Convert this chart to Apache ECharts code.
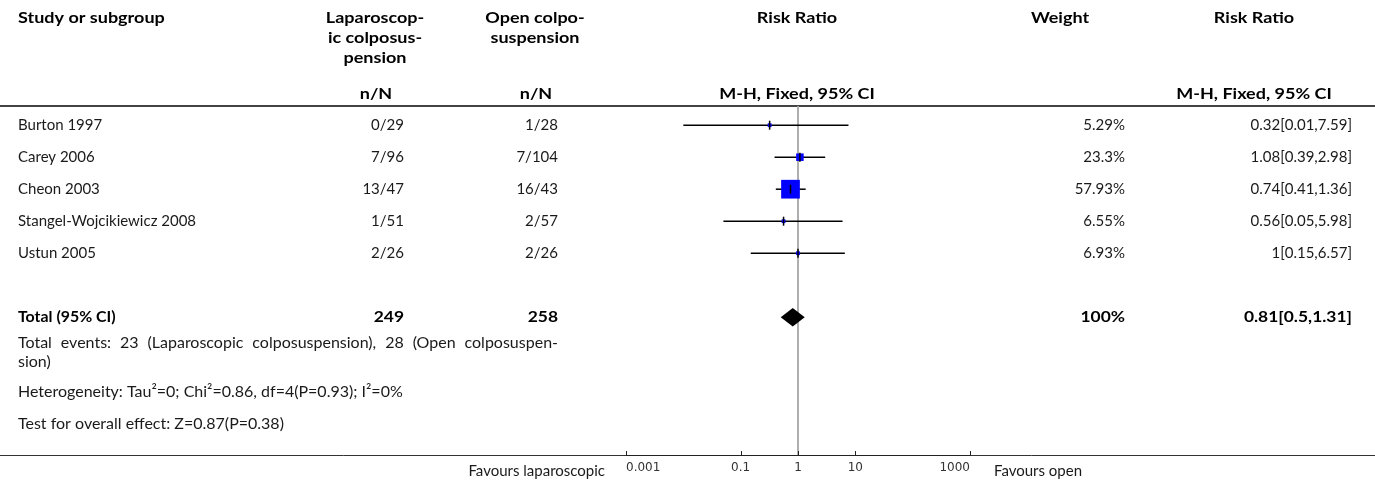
<!DOCTYPE html>
<html>
<head>
<meta charset="utf-8">
<script src="https://cdn.jsdelivr.net/npm/echarts@6/dist/echarts.min.js"></script>
<style>
  html, body { margin: 0; padding: 0; background: #fff; }
  #chart { width: 1375px; height: 485px; }
</style>
</head>
<body>
<div id="chart"></div>
<script>
// Study-level data
const studies = ['Burton 1997', 'Carey 2006', 'Cheon 2003', 'Stangel-Wojcikiewicz 2008', 'Ustun 2005'];
const lapEvents = ['0/29', '7/96', '13/47', '1/51', '2/26'];
const openEvents = ['1/28', '7/104', '16/43', '2/57', '2/26'];
const weights = [5.29, 23.3, 57.93, 6.55, 6.93];
const riskRatio = [0.32, 1.08, 0.74, 0.56, 1];
const ciLower = [0.01, 0.39, 0.41, 0.05, 0.15];
const ciUpper = [7.59, 2.98, 1.36, 5.98, 6.57];

// Pooled estimate
const totalLapN = 249;
const totalOpenN = 258;
const totalWeight = 100;
const totalRR = 0.81;
const totalLower = 0.5;
const totalUpper = 1.31;

// Axis ticks
const tickValues = [0.001, 0.1, 1, 10, 1000];

const FONT = 'Lato';
const TEXT = '#1a1a1a';
const BODY_SIZE = 15;
const NOTE_SIZE = 16;
const BOLD_STRETCH = 1.16;

// Layout
const GRID_LEFT = 626, GRID_RIGHT = 970, GRID_TOP = 106, GRID_BOTTOM = 455;
const ROW_H = 32;
const Y_MIN = -0.6;
const Y_MAX = (GRID_BOTTOM - GRID_TOP) / ROW_H + Y_MIN;
const TOTAL_ROW = 6;

const COL_LAP = 404, COL_OPEN = 558, COL_WEIGHT = 1125, COL_RR = 1352;

const chart = echarts.init(document.getElementById('chart'), null, { renderer: 'canvas' });

const studyData = studies.map((s, i) => [ciLower[i], ciUpper[i], riskRatio[i], weights[i], i]);

chart.setOption({
  animation: false,
  backgroundColor: '#fff',
  grid: { left: GRID_LEFT, width: GRID_RIGHT - GRID_LEFT, top: GRID_TOP, height: GRID_BOTTOM - GRID_TOP },
  xAxis: {
    type: 'log', logBase: 10, min: 0.001, max: 1000,
    axisLine: { show: true, onZero: false, lineStyle: { color: '#222', width: 1 } },
    axisTick: { show: false },
    axisLabel: {
      show: true, customValues: tickValues, margin: 7,
      fontFamily: 'DejaVu Sans', fontSize: 12, color: '#333',
      alignMinLabel: 'left', alignMaxLabel: 'right',
      formatter: v => String(v)
    },
    splitLine: { show: false }
  },
  yAxis: { type: 'value', min: Y_MIN, max: Y_MAX, inverse: true, show: false },
  series: [
    {
      // reference line at RR = 1
      type: 'line', data: [], z: 1,
      markLine: {
        z: 1, silent: true, symbol: 'none', label: { show: false },
        lineStyle: { color: '#a6a6a6', width: 1.8, type: 'solid' },
        data: [{ xAxis: 1 }]
      }
    },
    {
      // axis tick marks at the labelled values, pointing up from the axis line
      type: 'custom', z: 2,
      data: tickValues.map(v => [v, Y_MAX]),
      encode: { x: 0, y: 1 },
      renderItem: function (params, api) {
        const p = api.coord([api.value(0), api.value(1)]);
        return {
          type: 'line',
          shape: { x1: Math.round(p[0]) + 0.5, y1: p[1], x2: Math.round(p[0]) + 0.5, y2: p[1] - 4 },
          style: { stroke: '#222', lineWidth: 1 }
        };
      }
    },
    {
      type: 'custom', z: 3,
      dimensions: ['lo', 'hi', 'rr', 'w', 'row'],
      encode: { x: [0, 1, 2], y: 4 },
      data: studyData,
      renderItem: function (params, api) {
        const row = api.value(4);
        const pLo = api.coord([api.value(0), row]);
        const pHi = api.coord([api.value(1), row]);
        const pC = api.coord([api.value(2), row]);
        const s = Math.max(3.8, api.value(3) * 0.323);
        return {
          type: 'group',
          children: [
            { type: 'line', shape: { x1: pLo[0], y1: pLo[1], x2: pHi[0], y2: pHi[1] }, style: { stroke: '#000', lineWidth: 1.5 } },
            { type: 'rect', shape: { x: pC[0] - s / 2, y: pC[1] - s / 2, width: s, height: s }, style: { fill: '#0000ff' } },
            { type: 'line', shape: { x1: pC[0], y1: pC[1] - 4.5, x2: pC[0], y2: pC[1] + 4.5 }, style: { stroke: '#000', lineWidth: 1.5 } }
          ]
        };
      }
    },
    {
      type: 'custom', z: 3,
      dimensions: ['lo', 'hi', 'rr', 'row'],
      encode: { x: [0, 1, 2], y: 3 },
      data: [[totalLower, totalUpper, totalRR, TOTAL_ROW]],
      renderItem: function (params, api) {
        const row = api.value(3);
        const pLo = api.coord([api.value(0), row]);
        const pHi = api.coord([api.value(1), row]);
        const pC = api.coord([api.value(2), row]);
        const h = 9.3;
        return {
          type: 'polygon',
          shape: { points: [[pLo[0], pLo[1]], [pC[0], pC[1] - h], [pHi[0], pHi[1]], [pC[0], pC[1] + h]] },
          style: { fill: '#000' }
        };
      }
    }
  ]
});

function rowY(i) {
  return chart.convertToPixel({ gridIndex: 0 }, [1, i])[1];
}

function txt(text, x, y, opts) {
  opts = opts || {};
  return {
    type: 'text', x: x, y: y, silent: true,
    scaleX: opts.bold ? (opts.stretch || BOLD_STRETCH) : 1,
    style: {
      text: text,
      fontFamily: FONT,
      fontSize: opts.size || BODY_SIZE,
      fontWeight: opts.bold ? 'bold' : 'normal',
      fill: opts.color || TEXT,
      align: opts.align || 'left',
      verticalAlign: 'middle'
    }
  };
}

// Lays out one line of text justified between x0 and x1 by spreading the word gaps
const measureCtx = document.createElement('canvas').getContext('2d');
function justified(text, x0, x1, y, size) {
  measureCtx.font = size + 'px ' + FONT;
  const words = text.split(' ');
  const widths = words.map(w => measureCtx.measureText(w).width);
  const total = widths.reduce((a, b) => a + b, 0);
  const gap = (x1 - x0 - total) / (words.length - 1);
  const out = [];
  let x = x0;
  words.forEach((w, i) => {
    out.push(txt(w, x, y, { size: size }));
    x += widths[i] + gap;
  });
  return out;
}

const g = [];

// header
const H = { bold: true, color: '#000', stretch: 1.2 };
const HC = Object.assign({ align: 'center' }, H);
g.push(txt('Study or subgroup', 18, 18, H));
g.push(txt('Laparoscop-', 375, 18, HC));
g.push(txt('ic colposus-', 375, 38, HC));
g.push(txt('pension', 375, 58, HC));
g.push(txt('Open colpo-', 535, 18, HC));
g.push(txt('suspension', 535, 38, HC));
g.push(txt('Risk Ratio', 797, 18, HC));
g.push(txt('Weight', 1060, 18, HC));
g.push(txt('Risk Ratio', 1254, 18, HC));
g.push(txt('n/N', 376, 94, HC));
g.push(txt('n/N', 536, 94, HC));
g.push(txt('M-H, Fixed, 95% CI', 797, 94, HC));
g.push(txt('M-H, Fixed, 95% CI', 1254, 94, HC));

// header rule and bottom rule
g.push({ type: 'line', silent: true, shape: { x1: 0, y1: GRID_TOP, x2: 1375, y2: GRID_TOP }, style: { stroke: '#444', lineWidth: 2 } });
g.push({ type: 'line', silent: true, shape: { x1: 0, y1: GRID_BOTTOM + 0.5, x2: 1375, y2: GRID_BOTTOM + 0.5 }, style: { stroke: '#333', lineWidth: 1 } });

// study rows
studies.forEach((name, i) => {
  const y = rowY(i);
  g.push(txt(name, 18, y));
  g.push(txt(lapEvents[i], COL_LAP, y, { align: 'right' }));
  g.push(txt(openEvents[i], COL_OPEN, y, { align: 'right' }));
  g.push(txt(weights[i] + '%', COL_WEIGHT, y, { align: 'right' }));
  g.push(txt(riskRatio[i] + '[' + ciLower[i] + ',' + ciUpper[i] + ']', COL_RR, y, { align: 'right' }));
});

// total row
const ty = rowY(TOTAL_ROW);
const B = { bold: true, color: '#000' };
const BR = Object.assign({ align: 'right' }, B);
g.push(txt('Total (95% CI)', 18, ty, Object.assign({}, B, { stretch: 1.06 })));
g.push(txt(String(totalLapN), COL_LAP, ty, BR));
g.push(txt(String(totalOpenN), COL_OPEN, ty, BR));
g.push(txt(totalWeight + '%', COL_WEIGHT, ty, BR));
g.push(txt(totalRR + '[' + totalLower + ',' + totalUpper + ']', COL_RR, ty, BR));

// summary statistics
const N = { size: NOTE_SIZE };
justified('Total events: 23 (Laparoscopic colposuspension), 28 (Open colposuspen-', 18, 558, 343, NOTE_SIZE)
  .forEach(e => g.push(e));
g.push(txt('sion)', 18, 362, N));
g.push(txt('Heterogeneity: Tau\u00b2=0; Chi\u00b2=0.86, df=4(P=0.93); I\u00b2=0%', 18, 392, N));
g.push(txt('Test for overall effect: Z=0.87(P=0.38)', 18, 424, N));

// favours labels
g.push(txt('Favours laparoscopic', 605, 471, { align: 'right' }));
g.push(txt('Favours open', 994, 471));

chart.setOption({ graphic: g });
</script>
</body>
</html>
